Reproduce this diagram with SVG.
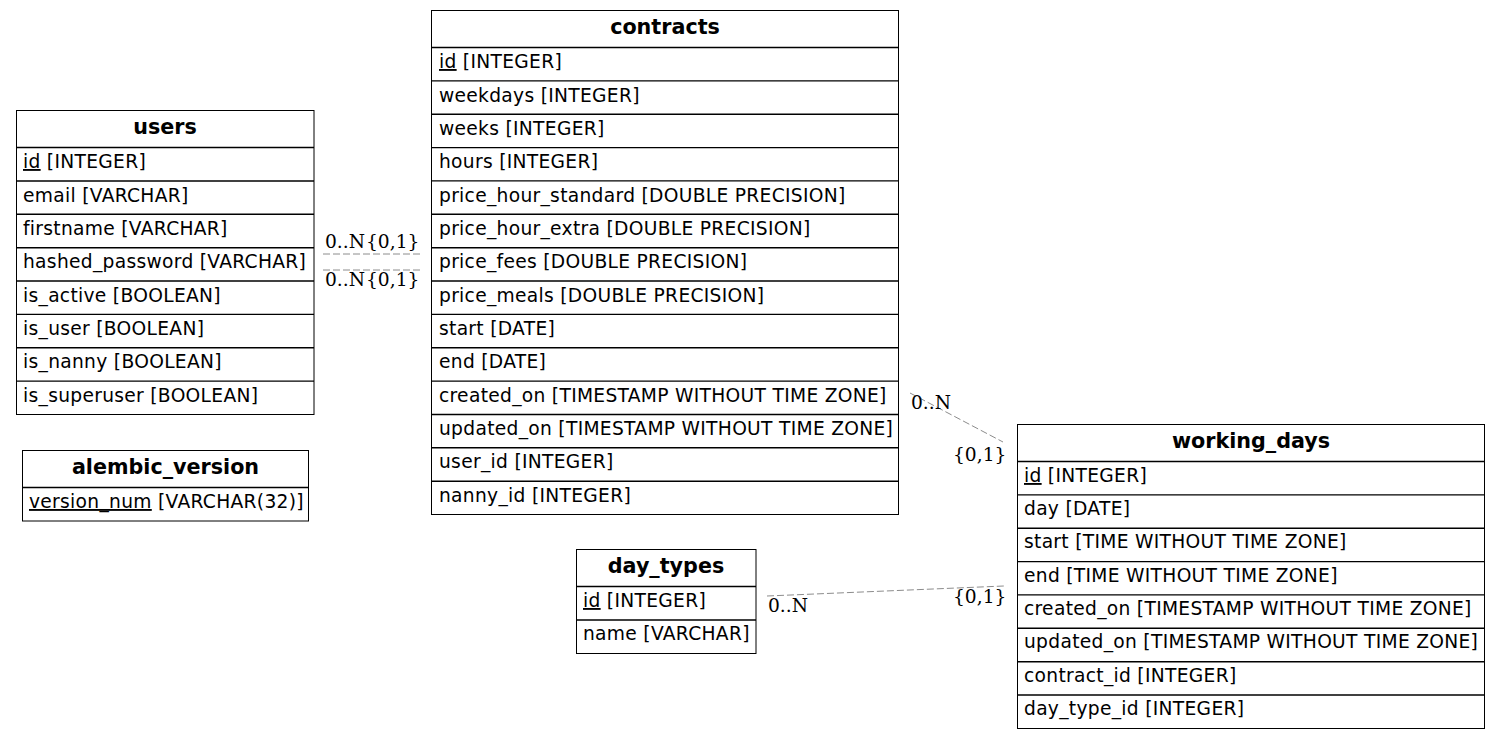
<svg xmlns="http://www.w3.org/2000/svg" width="1500" height="739" viewBox="0 0 1500 739">
<style>
.box{fill:#fff;stroke:#000;stroke-width:1}
.sep{stroke:#000;stroke-width:1.4}
.h{font-family:"DejaVu Sans",sans-serif;font-size:20.7px;font-weight:bold;text-anchor:middle;fill:#000}
.r{font-family:"DejaVu Sans",sans-serif;font-size:18.67px;letter-spacing:0.3px;fill:#000}
.u{text-decoration:underline}
.e{fill:none;stroke:#8c8c8c;stroke-width:1;stroke-dasharray:7,3}
.l{font-family:"DejaVu Serif",serif;font-size:18.67px;fill:#000}
</style>
<rect width="1500" height="739" fill="#fff"/>
<g id="connectors">
<line class="e" x1="323" y1="254" x2="421" y2="254"/>
<line class="e" x1="323" y1="270" x2="421" y2="270"/>
<text class="l" x="325" y="248">0..N</text>
<text class="l" x="366" y="248">{0,1}</text>
<text class="l" x="325" y="286">0..N</text>
<text class="l" x="366" y="286">{0,1}</text>
<line class="e" x1="910" y1="393" x2="1003" y2="442"/>
<text class="l" x="911" y="409">0..N</text>
<text class="l" x="953" y="461">{0,1}</text>
<line class="e" x1="767" y1="596" x2="1004" y2="586"/>
<text class="l" x="768" y="612">0..N</text>
<text class="l" x="953" y="603">{0,1}</text>
</g>
<g id="users">
<rect class="box" x="16.5" y="110.5" width="297.5" height="304"/>
<line class="sep" x1="16.5" y1="147.5" x2="314" y2="147.5"/>
<line class="sep" x1="16.5" y1="181" x2="314" y2="181"/>
<line class="sep" x1="16.5" y1="214.3" x2="314" y2="214.3"/>
<line class="sep" x1="16.5" y1="247.7" x2="314" y2="247.7"/>
<line class="sep" x1="16.5" y1="281" x2="314" y2="281"/>
<line class="sep" x1="16.5" y1="314.4" x2="314" y2="314.4"/>
<line class="sep" x1="16.5" y1="347.8" x2="314" y2="347.8"/>
<line class="sep" x1="16.5" y1="381.1" x2="314" y2="381.1"/>
<text class="h" x="165" y="134">users</text>
<text class="r" x="23" y="168"><tspan class="u">id</tspan> [INTEGER]</text>
<text class="r" x="23" y="202">email [VARCHAR]</text>
<text class="r" x="23" y="235">firstname [VARCHAR]</text>
<text class="r" x="23" y="268">hashed_password [VARCHAR]</text>
<text class="r" x="23" y="302">is_active [BOOLEAN]</text>
<text class="r" x="23" y="335">is_user [BOOLEAN]</text>
<text class="r" x="23" y="368">is_nanny [BOOLEAN]</text>
<text class="r" x="23" y="402">is_superuser [BOOLEAN]</text>
</g>
<g id="alembic_version">
<rect class="box" x="22.5" y="450.5" width="286" height="70.5"/>
<line class="sep" x1="22.5" y1="487.5" x2="308.5" y2="487.5"/>
<text class="h" x="165.5" y="474">alembic_version</text>
<text class="r" x="29" y="508"><tspan class="u">version_num</tspan> [VARCHAR(32)]</text>
</g>
<g id="contracts">
<rect class="box" x="431.5" y="10.5" width="467" height="504"/>
<line class="sep" x1="431.5" y1="47.5" x2="898.5" y2="47.5"/>
<line class="sep" x1="431.5" y1="80.9" x2="898.5" y2="80.9"/>
<line class="sep" x1="431.5" y1="114.2" x2="898.5" y2="114.2"/>
<line class="sep" x1="431.5" y1="147.6" x2="898.5" y2="147.6"/>
<line class="sep" x1="431.5" y1="180.9" x2="898.5" y2="180.9"/>
<line class="sep" x1="431.5" y1="214.3" x2="898.5" y2="214.3"/>
<line class="sep" x1="431.5" y1="247.7" x2="898.5" y2="247.7"/>
<line class="sep" x1="431.5" y1="281" x2="898.5" y2="281"/>
<line class="sep" x1="431.5" y1="314.4" x2="898.5" y2="314.4"/>
<line class="sep" x1="431.5" y1="347.7" x2="898.5" y2="347.7"/>
<line class="sep" x1="431.5" y1="381.1" x2="898.5" y2="381.1"/>
<line class="sep" x1="431.5" y1="414.5" x2="898.5" y2="414.5"/>
<line class="sep" x1="431.5" y1="447.8" x2="898.5" y2="447.8"/>
<line class="sep" x1="431.5" y1="481.2" x2="898.5" y2="481.2"/>
<text class="h" x="665" y="34">contracts</text>
<text class="r" x="439" y="68"><tspan class="u">id</tspan> [INTEGER]</text>
<text class="r" x="439" y="102">weekdays [INTEGER]</text>
<text class="r" x="439" y="135">weeks [INTEGER]</text>
<text class="r" x="439" y="168">hours [INTEGER]</text>
<text class="r" x="439" y="202">price_hour_standard [DOUBLE PRECISION]</text>
<text class="r" x="439" y="235">price_hour_extra [DOUBLE PRECISION]</text>
<text class="r" x="439" y="268">price_fees [DOUBLE PRECISION]</text>
<text class="r" x="439" y="302">price_meals [DOUBLE PRECISION]</text>
<text class="r" x="439" y="335">start [DATE]</text>
<text class="r" x="439" y="368">end [DATE]</text>
<text class="r" x="439" y="402">created_on [TIMESTAMP WITHOUT TIME ZONE]</text>
<text class="r" x="439" y="435">updated_on [TIMESTAMP WITHOUT TIME ZONE]</text>
<text class="r" x="439" y="468">user_id [INTEGER]</text>
<text class="r" x="439" y="502">nanny_id [INTEGER]</text>
</g>
<g id="day_types">
<rect class="box" x="576.5" y="549.5" width="179.5" height="104"/>
<line class="sep" x1="576.5" y1="586.5" x2="756" y2="586.5"/>
<line class="sep" x1="576.5" y1="620" x2="756" y2="620"/>
<text class="h" x="666" y="573">day_types</text>
<text class="r" x="583" y="607"><tspan class="u">id</tspan> [INTEGER]</text>
<text class="r" x="583" y="640">name [VARCHAR]</text>
</g>
<g id="working_days">
<rect class="box" x="1017.5" y="424.5" width="467" height="304"/>
<line class="sep" x1="1017.5" y1="461.5" x2="1484.5" y2="461.5"/>
<line class="sep" x1="1017.5" y1="494.9" x2="1484.5" y2="494.9"/>
<line class="sep" x1="1017.5" y1="528.2" x2="1484.5" y2="528.2"/>
<line class="sep" x1="1017.5" y1="561.6" x2="1484.5" y2="561.6"/>
<line class="sep" x1="1017.5" y1="594.9" x2="1484.5" y2="594.9"/>
<line class="sep" x1="1017.5" y1="628.3" x2="1484.5" y2="628.3"/>
<line class="sep" x1="1017.5" y1="661.7" x2="1484.5" y2="661.7"/>
<line class="sep" x1="1017.5" y1="695" x2="1484.5" y2="695"/>
<text class="h" x="1251" y="448">working_days</text>
<text class="r" x="1024" y="482"><tspan class="u">id</tspan> [INTEGER]</text>
<text class="r" x="1024" y="515">day [DATE]</text>
<text class="r" x="1024" y="548">start [TIME WITHOUT TIME ZONE]</text>
<text class="r" x="1024" y="582">end [TIME WITHOUT TIME ZONE]</text>
<text class="r" x="1024" y="615">created_on [TIMESTAMP WITHOUT TIME ZONE]</text>
<text class="r" x="1024" y="648">updated_on [TIMESTAMP WITHOUT TIME ZONE]</text>
<text class="r" x="1024" y="682">contract_id [INTEGER]</text>
<text class="r" x="1024" y="715">day_type_id [INTEGER]</text>
</g>
</svg>
